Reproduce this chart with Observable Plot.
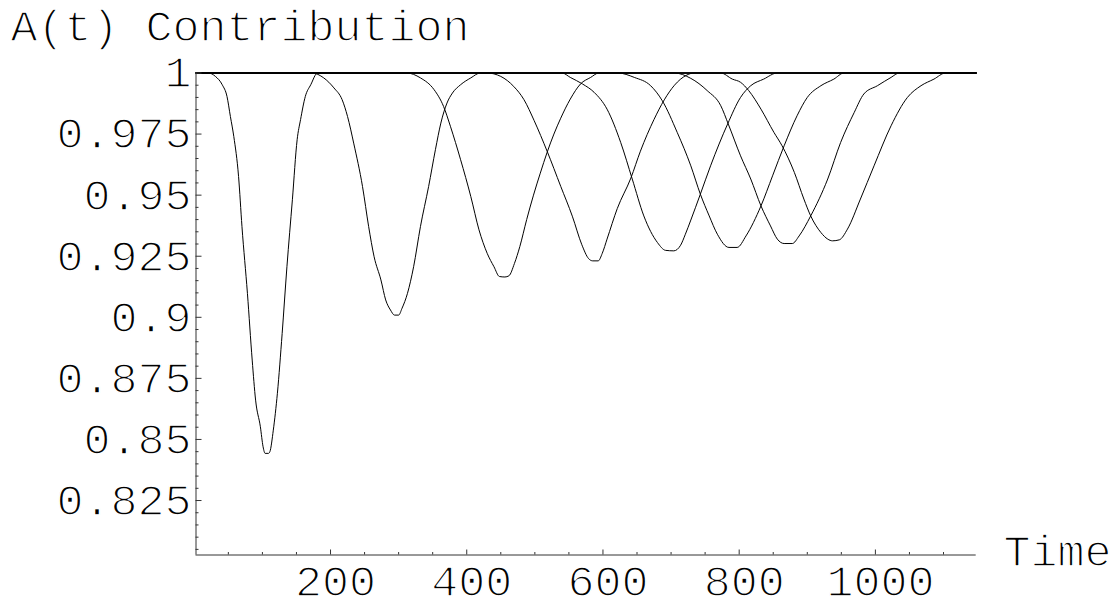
<!DOCTYPE html>
<html>
<head>
<meta charset="utf-8">
<script src="https://cdn.jsdelivr.net/npm/d3@7"></script>
<script src="https://cdn.jsdelivr.net/npm/@observablehq/plot@0.6"></script>
<style>
  html, body { margin: 0; padding: 0; background: white; }
  #chart svg { display: block; }
  #chart svg text { paint-order: normal !important; }
</style>
</head>
<body>
<div id="chart"></div>
<script>
// ---- data ----
const titleText = "A(t) Contribution";
const xLabelText = "Time";

const xTickValues = [200, 400, 600, 800, 1000];
const xTickLabels = ["200", "400", "600", "800", "1000"];
const xMinorTicks = [50, 100, 150, 250, 300, 350, 450, 500, 550, 650, 700, 750, 850, 900, 950, 1050, 1100];

const yTickValues = [1, 0.975, 0.95, 0.925, 0.9, 0.875, 0.85, 0.825];
const yTickLabels = ["1", "0.975", "0.95", "0.925", "0.9", "0.875", "0.85", "0.825"];
const yMinorTicks = [0.805, 0.81, 0.815, 0.82, 0.83, 0.835, 0.84, 0.845, 0.855, 0.86, 0.865, 0.87,
  0.88, 0.885, 0.89, 0.895, 0.905, 0.91, 0.915, 0.92, 0.93, 0.935, 0.94, 0.945,
  0.955, 0.96, 0.965, 0.97, 0.98, 0.985, 0.99, 0.995];

const xDomain = [2.5, 1148];
const yDomain = [0.8027, 1];

const dip1Time  = [2.5, 21, 31, 41, 48, 53, 58, 65, 70, 78, 85, 90, 97, 101, 104, 109, 111, 116, 122, 129, 136, 144, 151, 156, 163, 171, 181, 1148];
const dip1Value = [1, 1, 0.9986, 0.9952, 0.9904, 0.9822, 0.974, 0.9576, 0.9371, 0.9098, 0.8825, 0.8661, 0.8552, 0.847, 0.8443, 0.8443, 0.845, 0.8538, 0.8689, 0.8934, 0.9207, 0.9481, 0.9727, 0.9809, 0.9904, 0.9952, 1, 1];

const dip2Time  = [2.5, 173, 190, 205, 217, 225, 234, 247, 256, 264, 274, 281, 288, 294, 300, 305, 313, 322, 332, 344, 354, 362, 371, 379, 391, 406, 420, 1148];
const dip2Value = [1, 1, 0.998, 0.9939, 0.9891, 0.9822, 0.9713, 0.9535, 0.9371, 0.9248, 0.9153, 0.9071, 0.903, 0.9009, 0.9009, 0.9037, 0.9098, 0.9207, 0.9371, 0.9535, 0.9686, 0.9795, 0.9877, 0.9918, 0.9952, 0.998, 1, 1];

const dip3Time  = [2.5, 312, 332, 352, 366, 376, 391, 406, 418, 430, 440, 448, 456, 462, 470, 478, 488, 498, 508, 518, 528, 538, 552, 567, 582, 594, 1148];
const dip3Value = [1, 1, 0.998, 0.9932, 0.9863, 0.9782, 0.9645, 0.9494, 0.9358, 0.9262, 0.9207, 0.9167, 0.9165, 0.917, 0.922, 0.929, 0.94, 0.95, 0.959, 0.9675, 0.975, 0.9815, 0.9893, 0.9955, 0.9982, 1, 1];

const dip4Time  = [2.5, 430, 450, 469, 484, 499, 518, 538, 555, 569, 579, 585, 593, 599, 606, 621, 641, 655, 675, 690, 705, 722, 734, 1148];
const dip4Value = [1, 1, 0.9986, 0.9945, 0.9891, 0.9805, 0.968, 0.9536, 0.9414, 0.9297, 0.924, 0.9231, 0.9231, 0.9262, 0.932, 0.9445, 0.957, 0.968, 0.981, 0.989, 0.995, 0.999, 1, 1];

const dip5Time  = [2.5, 540, 552, 570, 587, 606, 626, 643, 660, 680, 692, 704, 714, 721, 729, 743, 758, 783, 802, 817, 836, 856, 1148];
const dip5Value = [1, 1, 0.9982, 0.9955, 0.9921, 0.9852, 0.9716, 0.9566, 0.9415, 0.9306, 0.9274, 0.9272, 0.9295, 0.934, 0.9398, 0.9504, 0.962, 0.9791, 0.99, 0.9948, 0.9975, 1, 1];

const dip6Time  = [2.5, 622, 646, 670, 687, 709, 729, 743, 756, 768, 785, 797, 810, 832, 849, 866, 885, 900, 920, 939, 954, 1148];
const dip6Value = [1, 1, 0.9982, 0.9948, 0.9887, 0.9757, 0.962, 0.9504, 0.9415, 0.934, 0.9286, 0.9286, 0.9333, 0.9456, 0.9579, 0.9702, 0.9825, 0.99, 0.9948, 0.9975, 1, 1];

const dip7Time  = [2.5, 705, 729, 753, 773, 784, 802, 817, 832, 846, 856, 866, 878, 888, 905, 930, 949, 969, 983, 1003, 1023, 1035, 1148];
const dip7Value = [1, 1, 0.9978, 0.9928, 0.9866, 0.9791, 0.9661, 0.9566, 0.9456, 0.9374, 0.932, 0.9302, 0.9302, 0.9333, 0.9415, 0.9566, 0.9716, 0.9839, 0.9914, 0.9948, 0.9982, 1, 1];

const dip8Time  = [2.5, 773, 790, 802, 814, 832, 851, 863, 881, 895, 905, 920, 930, 937, 947, 959, 978, 998, 1023, 1047, 1067, 1086, 1103, 1148];
const dip8Value = [1, 1, 0.9975, 0.9962, 0.9928, 0.9852, 0.9757, 0.9702, 0.9593, 0.9484, 0.9415, 0.9347, 0.932, 0.9313, 0.9317, 0.9361, 0.9484, 0.962, 0.9784, 0.99, 0.9948, 0.9975, 1, 1];

// ---- build table ----
const series = [
  [dip1Time, dip1Value], [dip2Time, dip2Value], [dip3Time, dip3Value], [dip4Time, dip4Value],
  [dip5Time, dip5Value], [dip6Time, dip6Value], [dip7Time, dip7Value], [dip8Time, dip8Value]
];
const rows = [];
series.forEach(([ts, vs], k) => ts.forEach((t, i) => rows.push({dip: k + 1, t, a: vs[i]})));

const W = 1116, H = 608;
const mL = 195.5, mR = 140.3, mT = 72.5, mB = 53.5;
const plotW = W - mL - mR, plotH = H - mT - mB;
const font = "'Liberation Mono', 'DejaVu Sans Mono', monospace";
const fs = 45;
// white stroke painted over the fill thins the glyphs toward the light Courier look
const textStyle = {fontFamily: font, fontSize: fs, fill: "black", stroke: "white", strokeWidth: 1.5};

const chart = Plot.plot({
  width: W, height: H,
  marginLeft: mL, marginRight: mR, marginTop: mT, marginBottom: mB,
  x: {domain: xDomain, axis: null},
  y: {domain: yDomain, axis: null},
  style: {background: "white", color: "black", fontFamily: font},
  marks: [
    Plot.line(rows, {x: "t", y: "a", z: "dip", curve: "monotone-x", stroke: "black", strokeWidth: 1}),
    // axes
    Plot.ruleY([yDomain[0]], {stroke: "#333", strokeWidth: 1}),
    Plot.ruleX([xDomain[0]], {stroke: "#333", strokeWidth: 1}),
    Plot.tickX(xTickValues, {x: d => d, insetTop: plotH - 5, stroke: "#333"}),
    Plot.tickX(xMinorTicks, {x: d => d, insetTop: plotH - 2.5, stroke: "#333"}),
    Plot.tickY(yTickValues, {y: d => d, insetRight: plotW - 6, stroke: "#333"}),
    Plot.tickY(yMinorTicks, {y: d => d, insetRight: plotW - 3, stroke: "#333"}),
    Plot.text(xTickValues, {x: d => d, text: (d, i) => xTickLabels[i], frameAnchor: "bottom",
      dy: 40.5, dx: 5, lineAnchor: "bottom", ...textStyle}),
    Plot.text(yTickValues, {y: d => d, text: (d, i) => yTickLabels[i], frameAnchor: "left",
      textAnchor: "end", dx: -4.5, lineAnchor: "middle", ...textStyle}),
    Plot.text([titleText], {text: d => d, frameAnchor: "top-left", dx: 10 - mL, dy: 40 - mT,
      textAnchor: "start", lineAnchor: "bottom", ...textStyle}),
    Plot.text([xLabelText], {text: d => d, frameAnchor: "bottom-right", dx: 27.3, dy: 565 - (H - mB),
      textAnchor: "start", lineAnchor: "bottom", ...textStyle})
  ]
});
d3.select(chart).selectAll("text").style("paint-order", "normal");
document.getElementById("chart").appendChild(chart);
</script>
</body>
</html>
